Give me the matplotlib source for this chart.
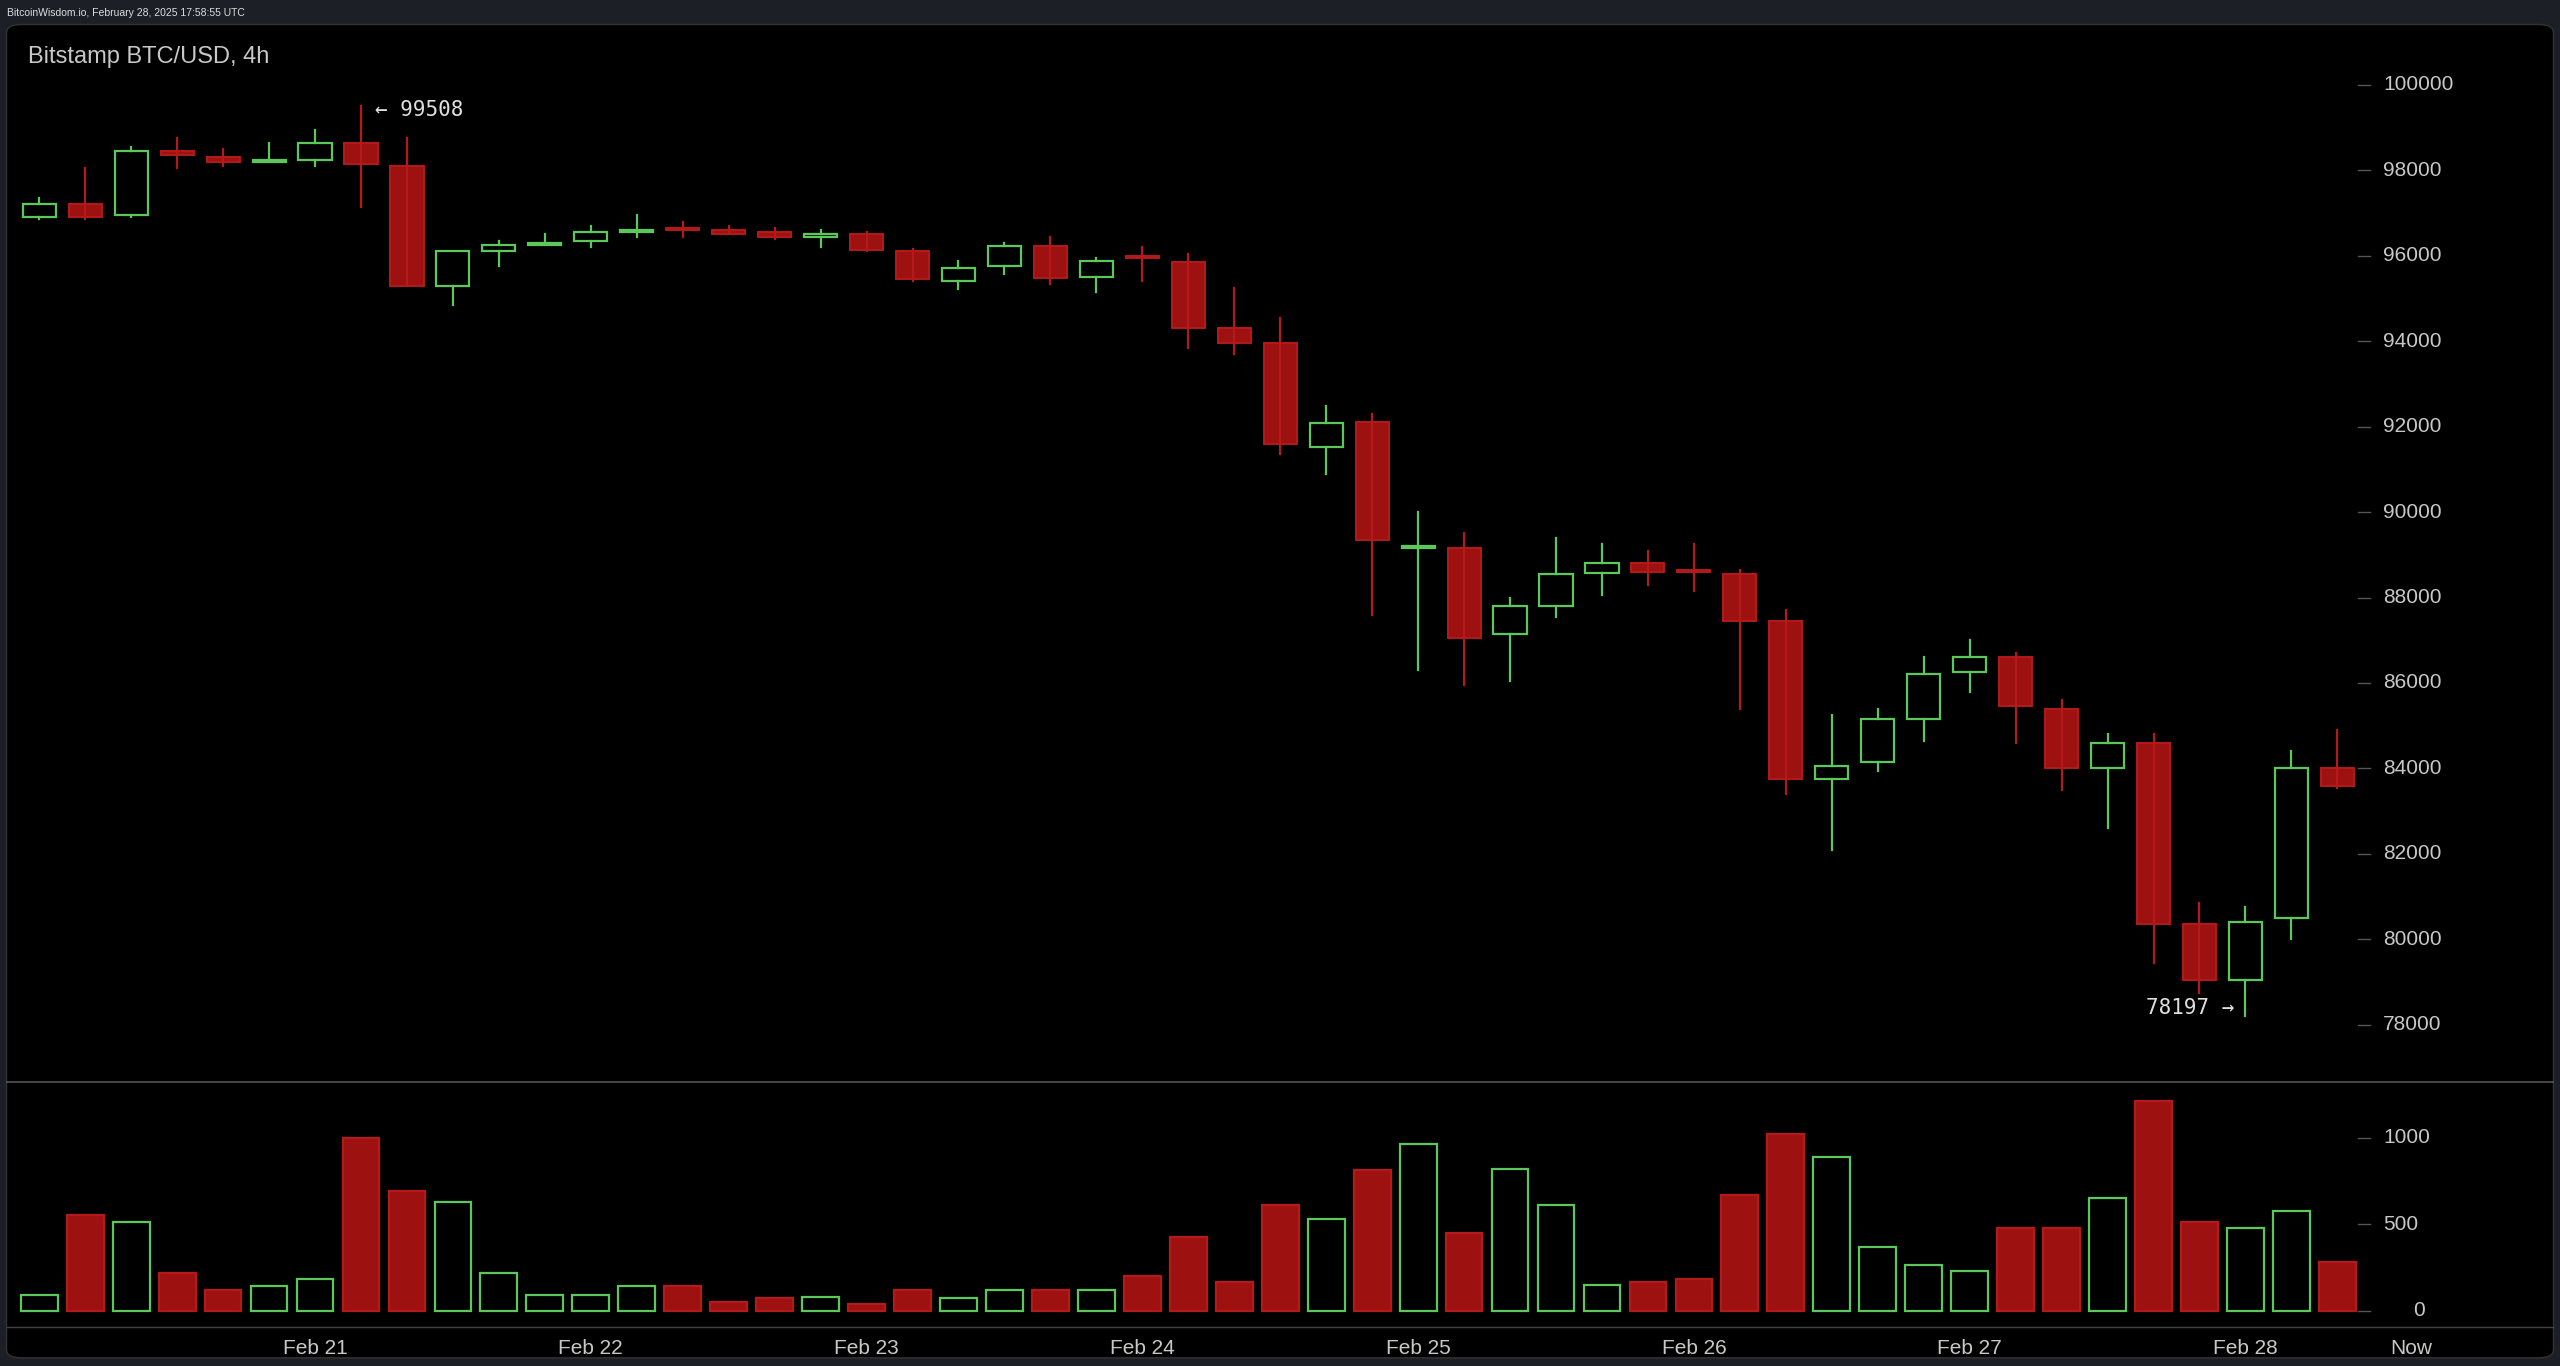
import matplotlib
matplotlib.use("Agg")
import matplotlib.pyplot as plt
from matplotlib.patches import Rectangle, FancyBboxPatch

plt.rcParams['font.family'] = ['Liberation Sans', 'DejaVu Sans']

opens  = [96900,97200,96950,98450,98300,98200,98250,98650,98100,95300,96100,96250,96350,96550,96650,96600,96550,96450,96520,96100,
          95420,95760,96220,95500,96000,95850,94300,93950,91520,92100,89150,89150,87150,87800,88580,88800,88650,88550,87450,83750,
          84150,85150,86250,86600,85400,84000,84600,80350,79050,80500,84000]
highs  = [97350,98050,98550,98750,98500,98650,98950,99508,98750,96100,96350,96500,96700,96950,96800,96700,96650,96600,96560,96150,
          95870,96300,96450,95950,96200,96050,95250,94550,92480,92300,90000,89500,88000,89400,89250,89100,89250,88650,87700,85250,
          85400,86600,87000,86700,85600,84800,84800,80850,80750,84400,84900]
lows   = [96850,96850,96900,98050,98100,98200,98100,97150,95300,94850,95750,96250,96200,96450,96450,96500,96400,96200,96100,95400,
          95230,95570,95340,95150,95400,93850,93700,91350,90900,87600,86300,85950,86050,87550,88050,88300,88150,85400,83400,82100,
          83950,84650,85800,84600,83500,82600,79450,78750,78197,80000,83550]
closes = [97200,96900,98450,98350,98200,98250,98650,98150,95300,96100,96250,96300,96550,96600,96600,96500,96450,96500,96140,95450,
          95720,96220,95490,95870,95950,94300,93950,91600,92090,89350,89200,87050,87800,88550,88800,88600,88600,87450,83750,84050,
          85150,86200,86600,85450,84000,84600,80350,79050,80400,84000,83600]
volumes = [90,550,510,220,120,140,185,1000,690,630,220,90,90,140,140,50,70,80,40,120,
           70,120,120,120,200,425,165,610,530,810,960,450,820,610,150,165,185,670,1020,890,
           370,265,230,480,480,650,1210,510,480,575,280]
date_labels = ["Feb 21","Feb 22","Feb 23","Feb 24","Feb 25","Feb 26","Feb 27","Feb 28"]
date_pos = [6,12,18,24,30,36,42,48]
price_ticks = [78000,80000,82000,84000,86000,88000,90000,92000,94000,96000,98000,100000]
vol_ticks = [0,500,1000]

RED_F, RED_E, GREEN = "#9e1111", "#b51a1a", "#5cc85c"
TXT = "#c8c8c8"
W, H = 1568, 837
def fx(px): return px / W
def fy(py): return 1 - py / H

fig = plt.figure(figsize=(25.6, 13.66), dpi=100, facecolor="#1c1f26")
fig.patches.append(FancyBboxPatch((fx(4), fy(832)), fx(1560), fy(15)-fy(832), boxstyle="round,pad=0,rounding_size=0.006",
                                  transform=fig.transFigure, facecolor="black", edgecolor="#333", zorder=-10))
fig.text(fx(4), fy(8), "BitcoinWisdom.io, February 28, 2025 17:58:55 UTC", color="#dddddd", fontsize=7.5, va="center")

xl = (-0.57, 54.56)
L, R = fx(8), fx(1560)
axp = fig.add_axes([L, fy(663), R-L, fy(15)-fy(663)])
axv = fig.add_axes([L, fy(813), R-L, fy(663)-fy(813)])
for ax in (axp, axv):
    ax.set_facecolor("none")
    ax.set_xlim(*xl)
    ax.axis("off")
    ax.set_zorder(5)
axp.set_ylim(76660, 101413)
axv.set_ylim(-94, 1321)

bw = 0.72
for i,(o,h,l,c) in enumerate(zip(opens,highs,lows,closes)):
    up = c >= o
    if up:
        axp.plot([i,i],[l,min(o,c)], color=GREEN, lw=1.6)
        axp.plot([i,i],[max(o,c),h], color=GREEN, lw=1.6)
        axp.add_patch(Rectangle((i-bw/2, o), bw, max(c-o,15), facecolor="none", edgecolor=GREEN, lw=1.6))
    else:
        axp.plot([i,i],[l,h], color=RED_E, lw=1.6)
        axp.add_patch(Rectangle((i-bw/2, c), bw, max(o-c,15), facecolor=RED_F, edgecolor=RED_E, lw=1.4))
    vu = up
    axv.add_patch(Rectangle((i-0.4, 0), 0.8, volumes[i], facecolor="none" if vu else RED_F,
                            edgecolor=GREEN if vu else RED_E, lw=1.6))

ylab_x = 51.0
for t in price_ticks:
    axp.text(ylab_x, t, str(t), color=TXT, fontsize=15, va="center", ha="left")
    axp.plot([50.45,50.7],[t,t], color="#555", lw=1)
for t in vol_ticks:
    axv.text(ylab_x + (0 if t else 0.65), t, str(t), color=TXT, fontsize=15, va="center", ha="left")
    axv.plot([50.45,50.7],[t,t], color="#555", lw=1)

fig.add_artist(plt.Line2D([fx(4), fx(1564)], [fy(663), fy(663)], color="#555", lw=1.2))
fig.add_artist(plt.Line2D([fx(4), fx(1564)], [fy(813), fy(813)], color="#444", lw=1))

for p, lab in zip(date_pos, date_labels):
    axv.text(p, -220, lab, color=TXT, fontsize=15, ha="center", va="center", clip_on=False)
axv.text(51.6, -220, "Now", color=TXT, fontsize=15, ha="center", va="center", clip_on=False)

axp.text(-0.25, 100650, "Bitstamp BTC/USD, 4h", color=TXT, fontsize=17, va="center", ha="left")
imax = highs.index(max(highs)); imin = lows.index(min(lows))
axp.text(imax+0.3, max(highs)-100, "\u2190 99508", color="#e0e0e0", fontsize=15, va="center", ha="left",
         family=['DejaVu Sans Mono'])
axp.text(imin-0.25, min(lows)+200, "78197 \u2192", color="#e0e0e0", fontsize=15, va="center", ha="right",
         family=['DejaVu Sans Mono'])

fig.savefig("out.png", dpi=100, facecolor=fig.get_facecolor())
